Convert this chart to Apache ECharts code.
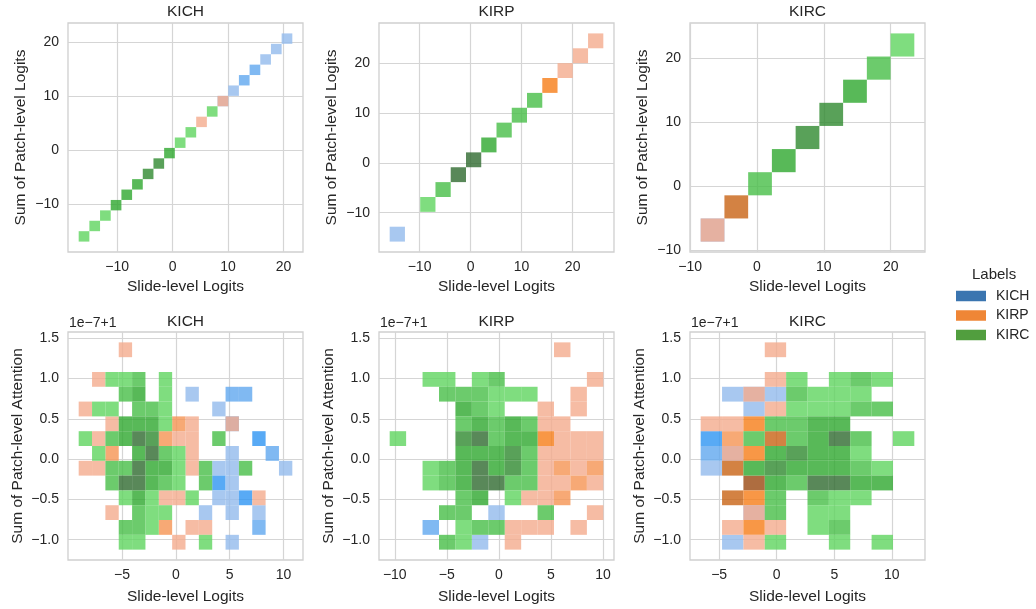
<!DOCTYPE html>
<html>
<head>
<meta charset="utf-8">
<script src="https://cdn.jsdelivr.net/npm/echarts@6/dist/echarts.min.js"></script>
<style>
  html, body { margin: 0; padding: 0; background: #fff; }
  #chart { width: 1036px; height: 609px; }
</style>
</head>
<body>
<div id="chart"></div>
<script>
// class labels (hue) and the panel titles
var classNames = ['KICH', 'KIRP', 'KIRC'];
var panelTitles = ['KICH', 'KIRP', 'KIRC', 'KICH', 'KIRP', 'KIRC'];

// bins: [first edge, bin width, number of bins]
var topKichXBins = [-16.93, 1.9265, 20];
var topKichYBins = [-16.93, 1.9265, 20];
var topKirpXBins = [-15.85, 2.99, 14];
var topKirpYBins = [-15.8, 2.99, 14];
var topKircXBins = [-8.42, 3.55, 9];
var topKircYBins = [-8.7, 3.618, 9];
var botKichXBins = [-9.02, 1.24, 16];
var botKirpXBins = [-10.49, 1.578, 13];
var botKircXBins = [-6.6, 1.855, 10];
var botYBins = [-1.124, 0.1839, 14];   // x 1e-7, offset +1

// tick labels
var topTicks = [-10, 0, 10, 20];
var botKichXTicks = [-5, 0, 5, 10];
var botKirpXTicks = [-10, -5, 0, 5, 10];
var botKircXTicks = [-5, 0, 5, 10];
var botYTicks = [-1.0, -0.5, 0.0, 0.5, 1.0, 1.5];

// cells: [x bin, y bin, count level 1..5], one list per label
var topKichKICH = [[13,13,1],[14,14,1],[15,15,2],[16,16,2],[17,17,1],[18,18,1],[19,19,1]];
var topKichKIRP = [[11,11,1],[13,13,1]];
var topKichKIRC = [[0,0,1],[1,1,1],[2,2,1],[3,3,3],[4,4,3],[5,5,3],[6,6,4],[7,7,4],[8,8,3],[9,9,1],[10,10,1],[12,12,1]];

var topKirpKICH = [[0,0,1]];
var topKirpKIRP = [[10,10,3],[11,11,1],[12,12,1],[13,13,1]];
var topKirpKIRC = [[2,2,1],[3,3,2],[4,4,5],[5,5,5],[6,6,3],[7,7,2],[8,8,2],[9,9,2]];

var topKircKICH = [[0,0,1]];
var topKircKIRP = [[0,0,1],[1,1,4]];
var topKircKIRC = [[2,2,2],[3,3,3],[4,4,4],[5,5,4],[6,6,3],[7,7,2],[8,8,1]];

var botKichKICH = [[8,10,1],[11,10,2],[12,10,2],[10,9,1],[11,8,2],[13,7,3],[11,6,1],[14,6,2],
  [10,5,1],[11,5,1],[15,5,1],[10,4,3],[11,4,1],[10,3,1],[11,3,1],[12,3,3],[9,2,1],[11,2,1],
  [13,2,1],[13,1,2],[11,0,1]];
var botKichKIRP = [[3,13,1],[1,11,1],[0,9,1],[2,8,1],[7,8,2],[8,8,1],[11,8,1],[1,7,1],[6,7,2],
  [7,7,1],[8,7,1],[2,6,2],[8,6,1],[0,5,1],[1,5,1],[8,5,1],[6,3,1],[7,3,1],[13,3,1],[2,2,1],
  [6,1,2],[8,1,1],[9,1,1],[7,0,1]];
var botKichKIRC = [[2,11,1],[3,11,1],[4,11,2],[6,11,1],[3,10,2],[4,10,3],[6,10,1],
  [1,9,1],[2,9,1],[4,9,2],[5,9,2],[6,9,1],[3,8,3],[4,8,3],[5,8,3],[6,8,1],
  [0,7,1],[2,7,2],[3,7,3],[4,7,5],[5,7,4],[10,7,2],[1,6,1],[4,6,3],[5,6,5],[6,6,2],[7,6,1],
  [2,5,2],[3,5,2],[4,5,5],[5,5,3],[6,5,3],[7,5,1],[9,5,2],[12,5,2],
  [2,4,2],[3,4,5],[4,4,5],[5,4,3],[6,4,2],[7,4,1],[9,4,2],
  [3,3,1],[4,3,3],[5,3,1],[8,3,1],[4,2,2],[5,2,1],[6,2,1],[3,1,2],[4,1,2],[5,1,1],
  [3,0,1],[4,0,1],[9,0,1]];

var botKirpKICH = [[6,2,1],[2,1,2],[5,0,1]];
var botKirpKIRP = [[10,13,1],[12,11,1],[11,10,1],[9,9,1],[11,9,1],[9,8,1],[10,8,1],
  [9,7,3],[10,7,1],[11,7,1],[12,7,1],[9,6,1],[10,6,1],[11,6,1],[12,6,1],
  [9,5,1],[10,5,2],[11,5,1],[12,5,2],[9,4,1],[10,4,1],[11,4,2],[12,4,1],
  [8,3,1],[9,3,1],[10,3,2],[12,2,1],[7,1,1],[8,1,1],[9,1,1],[11,1,1],[7,0,1]];
var botKirpKIRC = [[2,11,1],[3,11,1],[5,11,1],[6,11,2],
  [3,10,2],[4,10,2],[5,10,2],[6,10,1],[7,10,1],[8,10,1],[4,9,3],[5,9,2],[6,9,1],
  [4,8,2],[5,8,3],[6,8,2],[7,8,3],[8,8,2],[0,7,1],[4,7,4],[5,7,5],[6,7,2],[7,7,3],[8,7,3],
  [4,6,3],[5,6,3],[6,6,3],[7,6,4],[8,6,2],[2,5,1],[3,5,2],[4,5,3],[5,5,5],[6,5,3],[7,5,4],[8,5,2],
  [2,4,1],[3,4,2],[4,4,3],[5,4,5],[6,4,5],[7,4,2],[8,4,2],[4,3,2],[5,3,3],[7,3,1],
  [3,2,2],[4,2,2],[9,2,2],[4,1,1],[5,1,2],[6,1,2],[3,0,2],[4,0,1]];

var botKircKICH = [[1,10,1],[2,10,1],[3,10,1],[2,9,1],[0,7,3],[0,6,2],[1,6,1],[0,5,1],[2,2,1],[1,0,1]];
var botKircKIRP = [[3,13,1],[3,11,1],[2,10,1],[3,9,1],[0,8,1],[1,8,1],[2,8,3],[1,7,2],[3,7,4],
  [1,6,1],[2,6,3],[1,5,4],[2,4,5],[1,3,4],[2,3,3],[2,2,1],[1,1,1],[2,1,3],[3,1,1],[2,0,1]];
var botKircKIRC = [[4,11,1],[6,11,1],[7,11,2],[8,11,1],[4,10,2],[5,10,1],[6,10,1],[7,10,1],
  [4,9,1],[5,9,1],[6,9,1],[7,9,2],[8,9,2],[3,8,2],[4,8,2],[5,8,3],[6,8,3],
  [2,7,2],[4,7,2],[5,7,3],[6,7,5],[7,7,2],[9,7,1],[3,6,3],[4,6,4],[5,6,3],[6,6,3],[7,6,1],
  [2,5,3],[3,5,4],[4,5,3],[5,5,3],[6,5,3],[7,5,2],[8,5,1],
  [3,4,3],[4,4,2],[5,4,5],[6,4,5],[7,4,3],[8,4,3],[3,3,2],[5,3,2],[6,3,1],[7,3,1],
  [3,2,2],[5,2,1],[6,2,1],[5,1,1],[6,1,2],[3,0,1],[6,0,1],[8,0,1]];

// colours
var legendColors = ['#3a75b0', '#ef8636', '#519e3e'];
var ramps = [
  ['#92baec', '#2e95f2', '#1a5a9a'],
  ['#f4ab8d', '#f67d18', '#9a4810'],
  ['#5fd45f', '#2ea82e', '#2f6a2f']
];
var textColor = '#262626';
var gridColor = '#d5d5d5';

var panels = [
  {x: topKichXBins, y: topKichYBins, cells: [topKichKICH, topKichKIRP, topKichKIRC], xt: topTicks, yt: topTicks, dec: 0, row: 0},
  {x: topKirpXBins, y: topKirpYBins, cells: [topKirpKICH, topKirpKIRP, topKirpKIRC], xt: topTicks, yt: topTicks, dec: 0, row: 0},
  {x: topKircXBins, y: topKircYBins, cells: [topKircKICH, topKircKIRP, topKircKIRC], xt: topTicks, yt: topTicks, dec: 0, row: 0},
  {x: botKichXBins, y: botYBins, cells: [botKichKICH, botKichKIRP, botKichKIRC], xt: botKichXTicks, yt: botYTicks, dec: 1, row: 1},
  {x: botKirpXBins, y: botYBins, cells: [botKirpKICH, botKirpKIRP, botKirpKIRC], xt: botKirpXTicks, yt: botYTicks, dec: 1, row: 1},
  {x: botKircXBins, y: botYBins, cells: [botKircKICH, botKircKIRP, botKircKIRC], xt: botKircXTicks, yt: botYTicks, dec: 1, row: 1}
];

var gridLefts = [68, 379, 690];
var gridTops = [23, 332];
var gridW = 235, gridH = 229;
var font = '"Liberation Sans", Arial, sans-serif';

function hexToRgb(h) {
  return [parseInt(h.substr(1, 2), 16), parseInt(h.substr(3, 2), 16), parseInt(h.substr(5, 2), 16)];
}
function levelColor(ramp, level) {
  var t = (level - 1) / 2, a, b;
  if (t <= 1) { a = hexToRgb(ramp[0]); b = hexToRgb(ramp[1]); }
  else { a = hexToRgb(ramp[1]); b = hexToRgb(ramp[2]); t -= 1; }
  var c = [0, 1, 2].map(function (i) { return Math.round(a[i] + (b[i] - a[i]) * t); });
  return 'rgb(' + c.join(',') + ')';
}
function extent(bins) {
  var lo = bins[0], hi = bins[0] + bins[1] * bins[2], m = (hi - lo) * 0.05;
  return [lo - m, hi + m];
}
function fmt(dec) {
  return function (v) { return v.toFixed(dec).replace('-', '\u2212'); };
}

var chart = echarts.init(document.getElementById('chart'));
var grids = [], xAxes = [], yAxes = [], series = [], graphics = [];

panels.forEach(function (p, i) {
  var col = i % 3;
  var left = gridLefts[col], top = gridTops[p.row];
  grids.push({left: left, top: top, width: gridW, height: p.row ? 228 : gridH,
    show: true, borderColor: '#cfcfcf', borderWidth: 1.3, backgroundColor: '#fff'});
  var xe = extent(p.x), ye = extent(p.y);
  xAxes.push({
    type: 'value', gridIndex: i, min: xe[0], max: xe[1],
    name: 'Slide-level Logits', nameLocation: 'middle', nameGap: p.row ? 29 : 27,
    nameTextStyle: {fontSize: 15.5, color: textColor},
    axisLine: {show: false}, axisTick: {show: false, customValues: p.xt},
    axisLabel: {customValues: p.xt, formatter: fmt(0), fontSize: 14, color: textColor, margin: 8},
    splitLine: {show: true, lineStyle: {color: gridColor, width: 1.2}}
  });
  yAxes.push({
    type: 'value', gridIndex: i, min: ye[0], max: ye[1],
    name: p.row ? 'Sum of Patch-level Attention' : 'Sum of Patch-level Logits',
    nameLocation: 'middle', nameGap: p.row ? 42 : 39,
    nameTextStyle: {fontSize: 15.5, color: textColor},
    axisLine: {show: false}, axisTick: {show: false, customValues: p.yt},
    axisLabel: {customValues: p.yt, formatter: fmt(p.dec), fontSize: 14, color: textColor, margin: 9},
    splitLine: {show: true, lineStyle: {color: gridColor, width: 1.2}}
  });
  p.cells.forEach(function (list, k) {
    var ramp = ramps[k];
    series.push({
      type: 'custom', name: classNames[k], xAxisIndex: i, yAxisIndex: i,
      itemStyle: {color: legendColors[k]},
      encode: {x: [0, 1], y: [2, 3]},
      data: list.map(function (c) {
        return [p.x[0] + c[0] * p.x[1], p.x[0] + (c[0] + 1) * p.x[1],
                p.y[0] + c[1] * p.y[1], p.y[0] + (c[1] + 1) * p.y[1], c[2]];
      }),
      renderItem: function (params, api) {
        var p0 = api.coord([api.value(0), api.value(2)]);
        var p1 = api.coord([api.value(1), api.value(3)]);
        return {
          type: 'rect',
          shape: {x: p0[0], y: p1[1], width: p1[0] - p0[0], height: p0[1] - p1[1]},
          style: {fill: levelColor(ramp, api.value(4)), opacity: 0.8}
        };
      }
    });
  });
  graphics.push({type: 'text', x: left + gridW / 2, y: top - (p.row ? 18 : 19),
    style: {text: panelTitles[i], fill: textColor, align: 'center', font: '15.5px ' + font}});
  if (p.row) {
    graphics.push({type: 'text', x: left + 1, y: top - 16,
      style: {text: '1e\u22127+1', fill: textColor, font: '14px ' + font}});
  }
});

graphics.push({type: 'text', x: 972, y: 267,
  style: {text: 'Labels', fill: textColor, font: '15px ' + font}});

chart.setOption({
  animation: false,
  textStyle: {fontFamily: font},
  grid: grids,
  xAxis: xAxes,
  yAxis: yAxes,
  series: series,
  graphic: graphics,
  legend: {
    orient: 'vertical', left: 951, top: 284, icon: 'rect',
    itemWidth: 30, itemHeight: 10.5, itemGap: 5.5,
    textStyle: {fontSize: 14, color: textColor, padding: [0, 0, 0, 5]},
    data: classNames.map(function (n, k) { return {name: n, itemStyle: {color: legendColors[k]}}; })
  }
});
</script>
</body>
</html>
